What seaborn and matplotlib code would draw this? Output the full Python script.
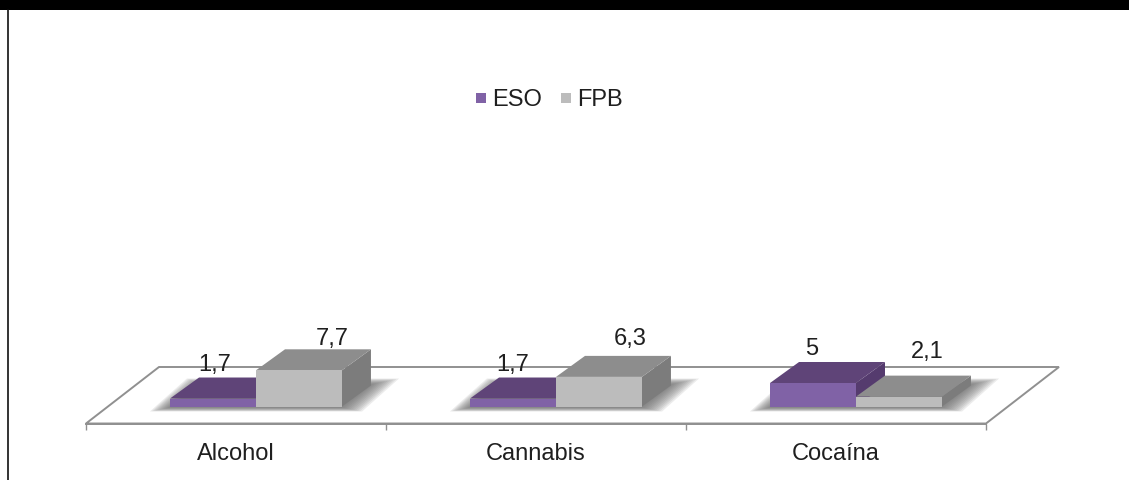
import matplotlib
matplotlib.use("Agg")
import matplotlib.pyplot as plt
from matplotlib.patches import Polygon, Rectangle
from matplotlib.lines import Line2D
import pandas as pd
import seaborn as sns

# Values
categories = ["Alcohol", "Cannabis", "Cocaína"]
series_names = ["ESO", "FPB"]
eso_values = [1.7, 1.7, 5.0]
fpb_values = [7.7, 6.3, 2.1]

# Figure geometry, in pixels
W, H = 1129, 480
AX_LEFT, AX_RIGHT, AX_BASE = 86, 986, 423.5
BAR_BASE = 406.5
PX_PER_UNIT = 4.7
CAT_PX = 300
DEPTH_X, DEPTH_Y = 29, 21
BAR_SHIFT = 20
FLOOR_SHIFT_X, FLOOR_BACK = 73, 367

# Face colours of each box: front, top, side
faces = {
    "ESO": ("#8062a6", "#5f4478", "#553b6e"),
    "FPB": ("#bcbcbc", "#8d8d8d", "#7c7c7c"),
}

# Label nudges in pixels from the back top edge of each box
label_dx = {"ESO": [2, 0, -1], "FPB": [33, 31, 28]}
label_dy = {"ESO": [13, 13, 13], "FPB": [10, 17, 24]}

sns.set_theme(style="white")
plt.rcParams["font.family"] = ["Liberation Sans", "DejaVu Sans"]
TEXT = "#1f1f1f"
EDGE = "#909090"
FONT = 17

fig = plt.figure(figsize=(W / 100, H / 100), dpi=100, facecolor="white")
ax = fig.add_axes([AX_LEFT / W, (H - AX_BASE) / H, (AX_RIGHT - AX_LEFT) / W, 0.02])

frame = pd.DataFrame({
    "category": categories * 2,
    "series": [series_names[0]] * 3 + [series_names[1]] * 3,
    "value": eso_values + fpb_values,
})
sns.barplot(
    data=frame, x="category", y="value", hue="series", hue_order=series_names,
    palette={s: faces[s][0] for s in series_names},
    width=0.573, gap=0, saturation=1, legend=False, errorbar=None, ax=ax,
)

# Axis scale: one category spans CAT_PX, the floor base sits below value zero
ax.set_xlim(-0.5, 2.5)
ax_height_px = 0.02 * H
y_low = (BAR_BASE - AX_BASE) / PX_PER_UNIT
ax.set_ylim(y_low, y_low + ax_height_px / PX_PER_UNIT)
UX = 1 / CAT_PX
UY = 1 / PX_PER_UNIT
shift = BAR_SHIFT * UX

# Floor plate
fl_back = (BAR_BASE - FLOOR_BACK) * UY
ax.add_patch(Polygon(
    [(-0.5, y_low), (-0.5 + FLOOR_SHIFT_X * UX, fl_back),
     (2.5 + FLOOR_SHIFT_X * UX, fl_back), (2.5, y_low)],
    closed=True, facecolor="white", edgecolor=EDGE, linewidth=1.4,
    clip_on=False, zorder=0.5,
))

# Soft shadow on the floor, built from stacked translucent layers
for cat in range(3):
    x0 = cat - 0.287 + shift
    x1 = cat + 0.287 + shift
    for px in range(20, -1, -2):
        low = -(1 + px * 0.2) * UY
        high = (DEPTH_Y + 1 + px * 0.3) * UY
        reach = (DEPTH_X + px * 0.4) * UX
        ax.add_patch(Polygon(
            [(x0 - px * UX, low), (x0 - px * UX + reach, high),
             (x1 + px * UX + reach, high), (x1 + px * UX, low)],
            closed=True, facecolor="#666666", edgecolor="none", alpha=0.12,
            clip_on=False, zorder=0.7,
        ))

# Box sides and tops, ESO first so FPB overlaps it
order = [(0, "ESO", eso_values), (1, "FPB", fpb_values)]
for s_idx, name, values in order:
    for cat, value in enumerate(values):
        left = cat - 0.2865 + s_idx * 0.2865 + shift
        right = left + 0.2865
        dx, dy = DEPTH_X * UX, DEPTH_Y * UY
        front, top, side = faces[name]
        ax.add_patch(Polygon(
            [(right, 0), (right + dx, dy), (right + dx, value + dy), (right, value)],
            closed=True, facecolor=side, edgecolor="none",
            clip_on=False, zorder=1 + s_idx,
        ))
        ax.add_patch(Polygon(
            [(left, value), (left + dx, value + dy), (right + dx, value + dy), (right, value)],
            closed=True, facecolor=top, edgecolor="none",
            clip_on=False, zorder=1 + s_idx,
        ))
        ax.text(
            (left + right) / 2 + label_dx[name][cat] * UX,
            value + dy + label_dy[name][cat] * UY,
            f"{value:g}".replace(".", ","),
            ha="center", va="center", fontsize=FONT, color=TEXT, clip_on=False, zorder=6,
        )

# Front faces sit above everything else
for bars in ax.containers:
    for rect in bars:
        rect.set_x(rect.get_x() + shift)
        rect.set_zorder(4)
        rect.set_clip_on(False)
        rect.set_linewidth(0)

# Axis line, boundary ticks and category labels
for sp in ("top", "left", "right"):
    ax.spines[sp].set_visible(False)
ax.spines["bottom"].set_color(EDGE)
ax.spines["bottom"].set_linewidth(1.4)
ax.set_xlabel("")
ax.set_ylabel("")
ax.set_yticks([])
ax.set_xticks(range(3), categories)
ax.tick_params(axis="x", which="major", length=0, pad=14, labelsize=FONT, labelcolor=TEXT)
ax.set_xticks([-0.5, 0.5, 1.5, 2.5], minor=True)
ax.tick_params(axis="x", which="minor", length=4, width=1, color=EDGE, bottom=True)
ax.patch.set_alpha(0)

# Legend
handles = [
    Line2D([], [], linestyle="none", marker="s", markersize=7.9,
           markerfacecolor=faces[s][0], markeredgewidth=0, label=s)
    for s in series_names
]
fig.legend(
    handles=handles, loc="center", bbox_to_anchor=(549 / W, 1 - 100 / H), ncol=2,
    frameon=False, fontsize=FONT, handlelength=0.5, handletextpad=0.22,
    columnspacing=0.8, labelcolor=TEXT,
)

# Page frame: heavy band along the top and a thin rule on the left
fig.add_artist(Rectangle((0, 1 - 10 / H), 1, 10 / H, transform=fig.transFigure,
                         facecolor="black", edgecolor="none"))
fig.add_artist(Line2D([7.8 / W, 7.8 / W], [0, 1 - 10 / H], color="#111111", linewidth=1.2))

fig.savefig("out.png", dpi=100, facecolor="white")
